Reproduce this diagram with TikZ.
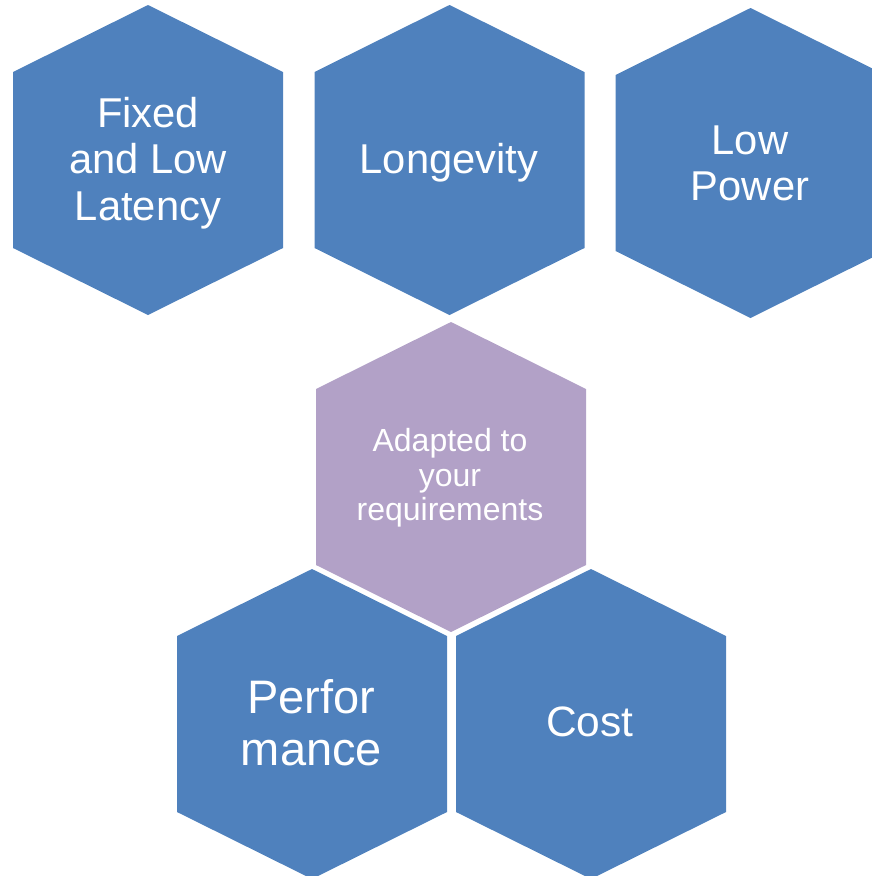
\documentclass[tikz,border=0pt]{standalone}
\usepackage{fontspec}
\setmainfont{Liberation Sans}
\definecolor{hexblue}{HTML}{4F81BD}
\definecolor{hexpurple}{HTML}{B2A1C7}
\newcommand\drawhex[3]{\fill[#3] (#1-135,#2-88) -- (#1,#2-155) -- (#1+135,#2-88) -- (#1+135,#2+88) -- (#1,#2+155) -- (#1-135,#2+88) -- cycle;}
\begin{document}
\begin{tikzpicture}[x=1pt,y=-1pt,
  hexlabel/.style={text=white, align=center, inner sep=0pt, anchor=center}]
\useasboundingbox (0,0) rectangle (872,876);
\clip (0,0) rectangle (872,876);
\drawhex{148}{160}{hexblue}
\drawhex{449.5}{160}{hexblue}
\drawhex{750.5}{163}{hexblue}
\drawhex{451}{477}{hexpurple}
\drawhex{312}{724}{hexblue}
\drawhex{591}{724}{hexblue}
\node[hexlabel, font=\fontsize{41.7}{46.5}\selectfont] (fixed) at (148,163) {Fixed\\and Low\\Latency};
\node[hexlabel, font=\fontsize{41.7}{46.5}\selectfont] (longevity) at (449,162.5) {Longevity};
\node[hexlabel, font=\fontsize{41.7}{46.5}\selectfont] (lowpower) at (750,163.3) {Low\\Power};
\node[hexlabel, font=\fontsize{32}{34.5}\selectfont] (adapted) at (450,478) {Adapted to\\your\\requirements};
\node[hexlabel, font=\fontsize{47}{51.7}\selectfont] (perf) at (311.5,722.6) {Perfor\\mance};
\node[hexlabel, font=\fontsize{42.5}{46.5}\selectfont] (cost) at (590,721.7) {Cost};
\end{tikzpicture}
\end{document}
